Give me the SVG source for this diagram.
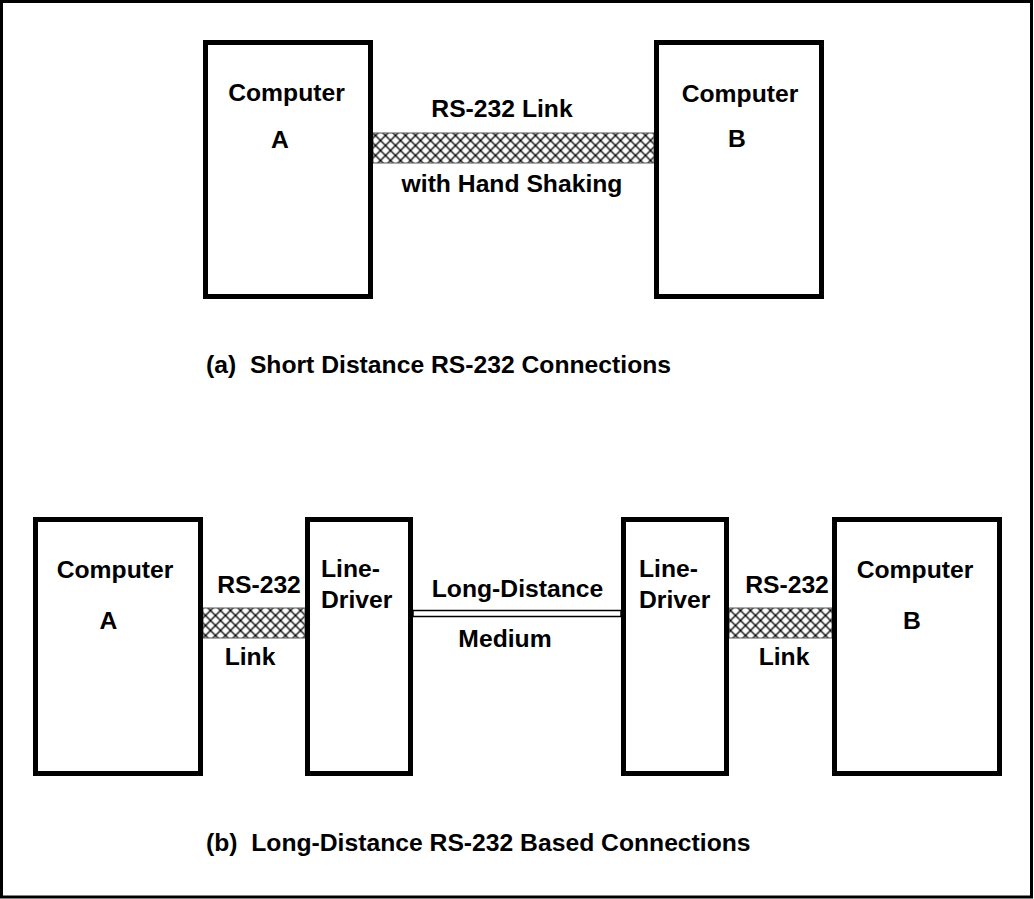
<svg xmlns="http://www.w3.org/2000/svg" width="1034" height="899" viewBox="0 0 1034 899">
<style>
.box{fill:#fff;stroke:#000;stroke-width:5}
.t{font-family:"Liberation Sans",Arial,sans-serif;font-weight:bold;font-size:24.7px;fill:#000}
.m{text-anchor:middle}
.hatch{fill:url(#xh);stroke:#555;stroke-width:1}
.dbl{fill:#fff;stroke:#000;stroke-width:1.5}
</style>
<defs>
<pattern id="xh" patternUnits="userSpaceOnUse" x="0.5" y="0.5" width="10" height="10">
<rect width="10" height="10" fill="#fff"/>
<path d="M0,0L10,10M10,0L0,10" stroke="#000" stroke-width="1.3"/>
</pattern>
</defs>
<rect x="1.5" y="1.5" width="1030" height="895.5" fill="#fff" stroke="#000" stroke-width="3"/>
<g id="connectors">
<rect class="hatch" x="373" y="133" width="281" height="30"/>
<rect class="hatch" x="203" y="608" width="102" height="30"/>
<rect class="dbl" x="413" y="610.5" width="208" height="6"/>
<rect class="hatch" x="729" y="608" width="103" height="30"/>
</g>
<g id="compA1">
<rect class="box" x="205.5" y="42.5" width="165" height="254"/>
<text class="t m" x="286.5" y="101">Computer</text>
<text class="t m" x="280" y="148">A</text>
</g>
<g id="compB1">
<rect class="box" x="656.5" y="42.5" width="165" height="254"/>
<text class="t m" x="740" y="102">Computer</text>
<text class="t m" x="737" y="147">B</text>
</g>
<g id="link1">
<text class="t m" x="502" y="117">RS-232 Link</text>
<text class="t m" x="512" y="192">with Hand Shaking</text>
</g>
<text class="t" x="206" y="373" xml:space="preserve">(a)  Short Distance RS-232 Connections</text>
<g id="compA2">
<rect class="box" x="35.5" y="519.5" width="165" height="254"/>
<text class="t m" x="115" y="578">Computer</text>
<text class="t m" x="108.5" y="629">A</text>
</g>
<g id="ld1">
<rect class="box" x="307.5" y="519.5" width="103" height="254"/>
<text class="t" x="321" y="577">Line-</text>
<text class="t" x="321" y="608">Driver</text>
</g>
<g id="ld2">
<rect class="box" x="623.5" y="519.5" width="103" height="254"/>
<text class="t" x="639" y="577">Line-</text>
<text class="t" x="639" y="608">Driver</text>
</g>
<g id="compB2">
<rect class="box" x="834.5" y="519.5" width="165" height="254"/>
<text class="t m" x="915" y="578">Computer</text>
<text class="t m" x="912" y="629">B</text>
</g>
<g id="labels2">
<text class="t m" x="259" y="593">RS-232</text>
<text class="t m" x="250" y="665">Link</text>
<text class="t m" x="517.5" y="597">Long-Distance</text>
<text class="t m" x="505" y="647">Medium</text>
<text class="t m" x="787" y="593">RS-232</text>
<text class="t m" x="784" y="665">Link</text>
</g>
<text class="t" x="206" y="851" xml:space="preserve">(b)  Long-Distance RS-232 Based Connections</text>
</svg>
